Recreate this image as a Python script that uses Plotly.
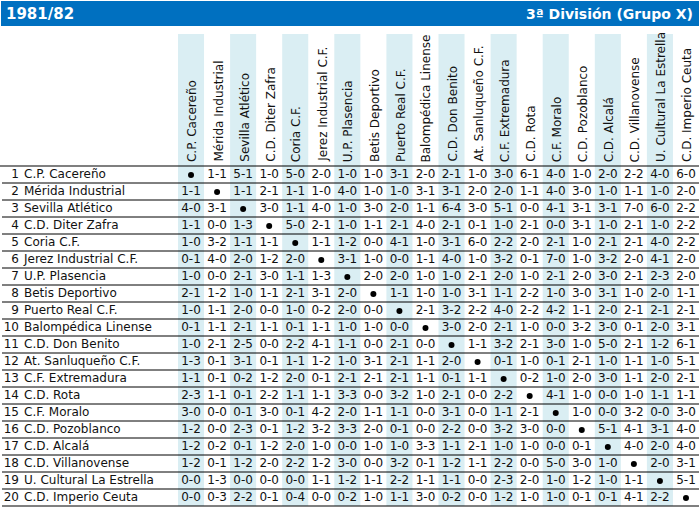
import plotly.graph_objects as go

# --- data -------------------------------------------------------------
season = "1981/82"
league = "3ª División (Grupo X)"

teams = [
    "C.P. Cacereño", "Mérida Industrial", "Sevilla Atlético", "C.D. Diter Zafra",
    "Coria C.F.", "Jerez Industrial C.F.", "U.P. Plasencia", "Betis Deportivo",
    "Puerto Real C.F.", "Balompédica Linense", "C.D. Don Benito",
    "At. Sanluqueño C.F.", "C.F. Extremadura", "C.D. Rota", "C.F. Moralo",
    "C.D. Pozoblanco", "C.D. Alcalá", "C.D. Villanovense",
    "U. Cultural La Estrella", "C.D. Imperio Ceuta",
]

# home team = row, away team = column, "-" on the diagonal
results = [
    "- 1-1 5-1 1-0 5-0 2-0 1-0 1-0 3-1 2-0 2-1 1-0 3-0 6-1 4-0 1-0 2-0 2-2 4-0 6-0",
    "1-1 - 1-1 2-1 1-1 1-0 4-0 1-0 1-0 3-1 3-1 2-0 2-0 1-1 4-0 3-0 1-0 1-1 1-0 2-0",
    "4-0 3-1 - 3-0 1-1 4-0 1-0 3-0 2-0 1-1 6-4 3-0 5-1 0-0 4-1 3-1 3-1 7-0 6-0 2-2",
    "1-1 0-0 1-3 - 5-0 2-1 1-0 1-1 2-1 4-0 2-1 0-1 1-0 2-1 0-0 3-1 1-0 2-1 1-0 2-2",
    "1-0 3-2 1-1 1-1 - 1-1 1-2 0-0 4-1 1-0 3-1 6-0 2-2 2-0 2-1 1-0 2-1 2-1 4-0 2-2",
    "0-1 4-0 2-0 1-2 2-0 - 3-1 1-0 0-0 1-1 4-0 1-0 3-2 0-1 7-0 1-0 3-2 2-0 4-1 2-0",
    "1-0 0-0 2-1 3-0 1-1 1-3 - 2-0 2-0 1-0 1-0 2-1 2-0 1-0 2-1 2-0 3-0 2-1 2-3 2-0",
    "2-1 1-2 1-0 1-1 2-1 3-1 2-0 - 1-1 1-0 1-0 3-1 1-1 2-2 1-0 3-0 3-1 1-0 2-0 1-1",
    "1-0 1-1 2-0 0-0 1-0 0-2 2-0 0-0 - 2-1 3-2 2-2 4-0 2-2 4-2 1-1 2-0 2-1 2-1 2-1",
    "0-1 1-1 2-1 1-1 0-1 1-1 1-0 1-0 0-0 - 3-0 2-0 2-1 1-0 0-0 3-2 3-0 0-1 2-0 3-1",
    "1-0 2-1 2-5 0-0 2-2 4-1 1-1 0-0 2-1 0-0 - 1-1 3-2 2-1 3-0 1-0 5-0 2-1 1-2 6-1",
    "1-3 0-1 3-1 0-1 1-1 1-2 1-0 3-1 2-1 1-1 2-0 - 0-1 1-0 0-1 2-1 1-0 1-1 1-0 5-1",
    "1-1 0-1 0-2 1-2 2-0 0-1 2-1 2-1 2-1 1-1 0-1 1-1 - 0-2 1-0 2-0 3-0 1-1 2-0 2-1",
    "2-3 1-1 0-1 2-2 1-1 1-1 3-3 0-0 3-2 1-0 2-1 0-0 2-2 - 4-1 1-0 0-0 1-0 1-1 1-1",
    "3-0 0-0 0-1 3-0 0-1 4-2 2-0 1-1 1-1 0-0 3-1 0-0 1-1 2-1 - 1-0 0-0 3-2 0-0 3-0",
    "1-2 0-0 2-3 0-1 1-2 3-2 3-3 2-0 0-1 0-0 2-2 0-0 3-2 3-0 0-0 - 5-1 4-1 3-1 4-0",
    "1-2 0-2 0-1 1-2 2-0 1-0 0-0 1-0 1-0 3-3 1-1 2-1 1-0 1-0 0-0 0-1 - 4-0 2-0 4-0",
    "1-2 0-1 1-2 2-0 2-2 1-2 3-0 0-0 3-2 0-1 1-2 1-1 2-2 0-0 5-0 3-0 1-0 - 2-0 3-1",
    "0-0 1-3 0-0 0-0 0-0 1-1 1-2 1-1 2-2 1-1 1-1 0-0 2-3 2-0 1-0 1-2 1-0 1-1 - 5-1",
    "0-0 0-3 2-2 0-1 0-4 0-0 0-2 1-0 1-1 3-0 0-2 0-0 1-2 1-0 1-0 0-1 0-1 4-1 2-2 -",
]

# --- geometry (page pixels) --------------------------------------------
W, H = 699, 507
col0, colw = 178, 26.05
head_top, head_bot = 34, 166
rowh = 17
blue = "#0070C0"
shade = "#DAEEF3"
font = "DejaVu Sans"
ink = "#111"

n = len(teams)
cx = [col0 + colw * (j + 0.5) for j in range(n)]
cy = [head_bot + rowh * (i + 0.5) + 0.5 for i in range(n)]

fig = go.Figure()

shapes = []
# blue title bar
shapes.append(dict(type="rect", x0=1, x1=W, y0=1, y1=26,
                   fillcolor=blue, line_width=0, layer="below"))
# shaded columns
for j in range(0, n, 2):
    shapes.append(dict(type="rect", x0=col0 + colw * j, x1=col0 + colw * (j + 1),
                       y0=head_top, y1=head_bot + rowh * n,
                       fillcolor=shade, line_width=0, layer="below"))
# header rule + row rules
shapes.append(dict(type="line", x0=0, x1=W, y0=head_bot, y1=head_bot,
                   line=dict(color="black", width=1.2)))
for i in range(1, n + 1):
    y = head_bot + rowh * i
    shapes.append(dict(type="line", x0=2, x1=W, y0=y, y1=y,
                       line=dict(color="black", width=1)))

# scores
xs, ys, txt = [], [], []
dx, dy = [], []
for i, row in enumerate(results):
    for j, r in enumerate(row.split()):
        if r == "-":
            dx.append(cx[j]); dy.append(cy[i])
        else:
            xs.append(cx[j]); ys.append(cy[i]); txt.append(r)

fig.add_trace(go.Scatter(x=xs, y=ys, text=txt, mode="text",
                         textfont=dict(family=font, size=12, color=ink),
                         hoverinfo="skip"))
fig.add_trace(go.Scatter(x=dx, y=dy, mode="markers",
                         marker=dict(size=6, color="black"),
                         hoverinfo="skip"))

# row labels: number right aligned, name left aligned
fig.add_trace(go.Scatter(x=[19] * n, y=cy, text=[str(i + 1) for i in range(n)],
                         mode="text", textposition="middle left",
                         textfont=dict(family=font, size=12, color=ink),
                         hoverinfo="skip"))
fig.add_trace(go.Scatter(x=[24] * n, y=cy, text=teams,
                         mode="text", textposition="middle right",
                         textfont=dict(family=font, size=12, color=ink),
                         hoverinfo="skip"))

annotations = []
for j, t in enumerate(teams):
    annotations.append(dict(x=cx[j] + 1, y=head_bot - 2, text=t, textangle=-90,
                            xanchor="center", yanchor="bottom", showarrow=False,
                            font=dict(family=font, size=12, color=ink)))
annotations.append(dict(x=4, y=14, text="<b>%s</b>" % season, showarrow=False,
                        xanchor="left", yanchor="middle",
                        font=dict(family=font, size=15, color="white")))
annotations.append(dict(x=W - 4, y=14, text="<b>%s</b>" % league, showarrow=False,
                        xanchor="right", yanchor="middle",
                        font=dict(family=font, size=14, color="white")))

fig.update_layout(
    width=W, height=H,
    margin=dict(l=0, r=0, t=0, b=0),
    paper_bgcolor="white", plot_bgcolor="white",
    showlegend=False,
    shapes=shapes, annotations=annotations,
    xaxis=dict(range=[0, W], visible=False, fixedrange=True),
    yaxis=dict(range=[H, 0], visible=False, fixedrange=True),
)

fig.write_html("out.html", config={"displayModeBar": False},
               post_script="document.body.style.margin='0';")
